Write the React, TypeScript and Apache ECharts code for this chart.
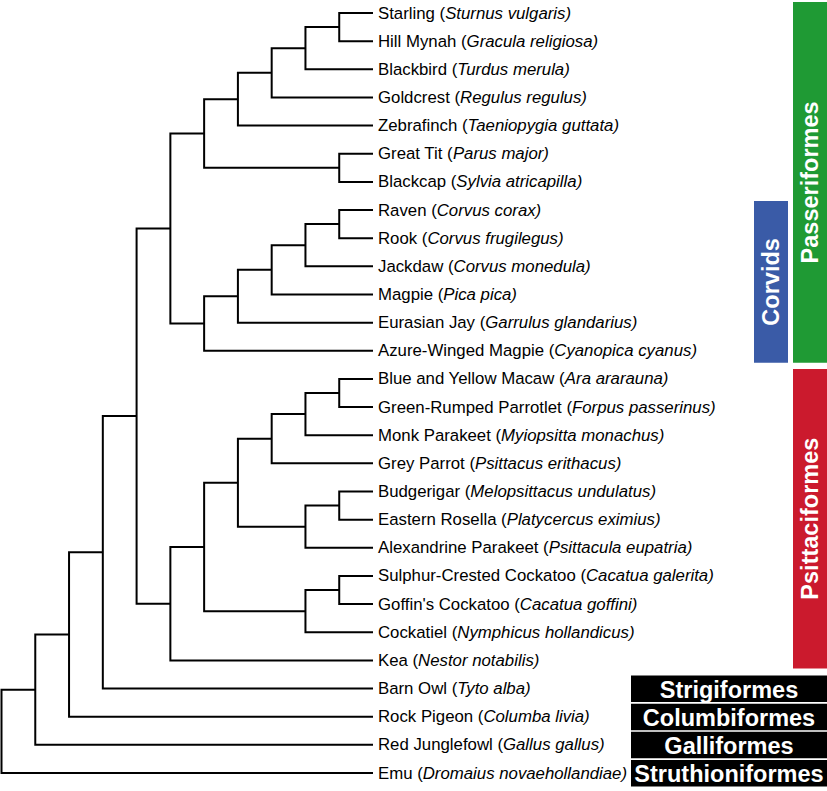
import React, { useEffect, useRef } from "react";
import * as echarts from "echarts";

// ---- Data ----
const commonNames: string[] = [
  "Starling", "Hill Mynah", "Blackbird", "Goldcrest", "Zebrafinch", "Great Tit", "Blackcap",
  "Raven", "Rook", "Jackdaw", "Magpie", "Eurasian Jay", "Azure-Winged Magpie",
  "Blue and Yellow Macaw", "Green-Rumped Parrotlet", "Monk Parakeet", "Grey Parrot",
  "Budgerigar", "Eastern Rosella", "Alexandrine Parakeet",
  "Sulphur-Crested Cockatoo", "Goffin's Cockatoo", "Cockatiel", "Kea",
  "Barn Owl", "Rock Pigeon", "Red Junglefowl", "Emu",
];
const latinNames: string[] = [
  "Sturnus vulgaris", "Gracula religiosa", "Turdus merula", "Regulus regulus", "Taeniopygia guttata",
  "Parus major", "Sylvia atricapilla",
  "Corvus corax", "Corvus frugilegus", "Corvus monedula", "Pica pica", "Garrulus glandarius",
  "Cyanopica cyanus",
  "Ara ararauna", "Forpus passerinus", "Myiopsitta monachus", "Psittacus erithacus",
  "Melopsittacus undulatus", "Platycercus eximius", "Psittacula eupatria",
  "Cacatua galerita", "Cacatua goffini", "Nymphicus hollandicus", "Nestor notabilis",
  "Tyto alba", "Columba livia", "Gallus gallus", "Dromaius novaehollandiae",
];

// Tree topology (nested pairs of leaf indices)
const passeriformesTree: any = [[[[[[0, 1], 2], 3], 4], [5, 6]], [[[[[7, 8], 9], 10], 11], 12]];
const psittaciformesTree: any = [[[[[[13, 14], 15], 16], [[17, 18], 19]], [[20, 21], 22]], 23];
const tree: any = [[[[[passeriformesTree, psittaciformesTree], 24], 25], 26], 27];

// Clade bars (leaf index ranges)
const verticalClades: string[] = ["Passeriformes", "Corvids", "Psittaciformes"];
const verticalStart: number[] = [0, 7, 13];
const verticalEnd: number[] = [12, 12, 23];
const orderNames: string[] = ["Strigiformes", "Columbiformes", "Galliformes", "Struthioniformes"];
const orderRows: number[] = [24, 25, 26, 27];

// ---- Styles ----
const cladeStyle: Record<string, { color: string; left: number; width: number; padTop: number; padBottom: number }> = {
  Passeriformes: { color: "#1f9a34", left: 793, width: 34, padTop: 11, padBottom: 12 },
  Corvids: { color: "#3a5ba7", left: 754, width: 34, padTop: 9, padBottom: 12 },
  Psittaciformes: { color: "#cb1a2d", left: 793, width: 34, padTop: 10, padBottom: 8 },
};

// ---- Tree layout ----
function height(n: any): number {
  if (typeof n === "number") return 0;
  return 1 + Math.max(height(n[0]), height(n[1]));
}
const maxH = height(tree);
function layoutY(n: any): number {
  if (typeof n === "number") return n;
  return (layoutY(n[0]) + layoutY(n[1])) / 2;
}
const bracketData: number[][] = [];
function collect(n: any) {
  if (typeof n === "number") return;
  const x = maxH - height(n);
  const c0 = n[0], c1 = n[1];
  bracketData.push([x, maxH - height(c0), layoutY(c0), maxH - height(c1), layoutY(c1)]);
  collect(c0);
  collect(c1);
}
collect(tree);

const FONT = "'Liberation Sans', Arial, Helvetica, sans-serif";

export default function App() {
  const ref = useRef<HTMLDivElement>(null);
  useEffect(() => {
    if (!ref.current) return;
    const chart = echarts.init(ref.current, null, { renderer: "svg" });
    chart.setOption({
      animation: false,
      backgroundColor: "#ffffff",
      grid: { left: 1.5, top: 13, width: 371.5, height: 760 },
      xAxis: { type: "value", min: 0, max: maxH, show: false },
      yAxis: { type: "value", min: 0, max: commonNames.length - 1, inverse: true, show: false },
      series: [
        {
          type: "custom",
          clip: false,
          silent: true,
          data: bracketData,
          renderItem: (params: any, api: any) => {
            const x = api.value(0);
            const a = api.coord([api.value(1), api.value(2)]);
            const n = api.coord([x, api.value(2)]);
            const m = api.coord([x, api.value(4)]);
            const b = api.coord([api.value(3), api.value(4)]);
            return {
              type: "polyline",
              shape: { points: [a, n, m, b] },
              style: { stroke: "#000", lineWidth: 2, fill: "none", lineJoin: "miter" },
            };
          },
        },
        {
          type: "custom",
          clip: false,
          silent: true,
          data: commonNames.map((_, i) => [maxH, i]),
          renderItem: (params: any, api: any) => {
            const i = params.dataIndex;
            const p = api.coord([api.value(0), api.value(1)]);
            return {
              type: "text",
              x: p[0] + 5,
              y: p[1],
              style: {
                text: `{n|${commonNames[i]} (}{it|${latinNames[i]})}`,
                verticalAlign: "middle",
                align: "left",
                rich: {
                  n: { fontFamily: FONT, fontSize: 16.8, fill: "#000" },
                  it: { fontFamily: FONT, fontSize: 16.8, fontStyle: "italic", fill: "#000" },
                },
              },
            };
          },
        },
        {
          type: "custom",
          clip: false,
          silent: true,
          data: verticalClades.map((_, i) => [verticalStart[i], verticalEnd[i]]),
          renderItem: (params: any, api: any) => {
            const name = verticalClades[params.dataIndex];
            const s = cladeStyle[name];
            const top = api.coord([0, api.value(0)])[1] - s.padTop;
            const bottom = api.coord([0, api.value(1)])[1] + s.padBottom;
            return {
              type: "group",
              children: [
                {
                  type: "rect",
                  shape: { x: s.left, y: top, width: s.width, height: bottom - top },
                  style: { fill: s.color },
                },
                {
                  type: "text",
                  x: s.left + s.width / 2,
                  y: (top + bottom) / 2,
                  rotation: Math.PI / 2,
                  style: {
                    text: name,
                    fill: "#fff",
                    fontFamily: FONT,
                    fontWeight: "bold",
                    fontSize: 23.5,
                    align: "center",
                    verticalAlign: "middle",
                  },
                },
              ],
            };
          },
        },
        {
          type: "custom",
          clip: false,
          silent: true,
          data: orderRows.map((r) => [0, r]),
          renderItem: (params: any, api: any) => {
            const name = orderNames[params.dataIndex];
            const cy = api.coord([0, api.value(1)])[1];
            return {
              type: "group",
              children: [
                {
                  type: "rect",
                  shape: { x: 631, y: cy - 13, width: 196, height: 26.5 },
                  style: { fill: "#000" },
                },
                {
                  type: "text",
                  x: 729,
                  y: cy + 1,
                  style: {
                    text: name,
                    fill: "#fff",
                    fontFamily: FONT,
                    fontWeight: "bold",
                    fontSize: 23.5,
                    align: "center",
                    verticalAlign: "middle",
                  },
                },
              ],
            };
          },
        },
      ],
    });
    return () => chart.dispose();
  }, []);
  return (
    <div
      ref={ref}
      style={{ position: "absolute", left: 0, top: 0, width: 827, height: 791, background: "#fff" }}
    />
  );
}
